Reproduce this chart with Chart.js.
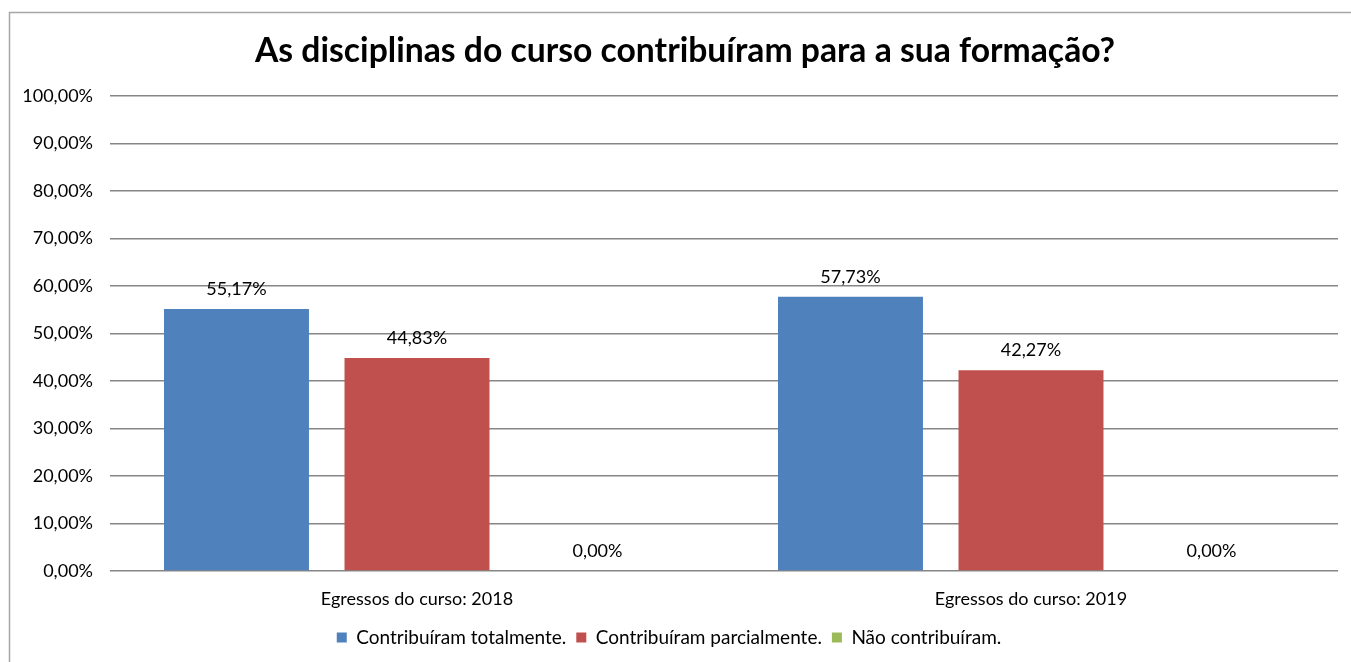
<!DOCTYPE html>
<html>
<head>
<meta charset="utf-8">
<script src="https://cdn.jsdelivr.net/npm/chart.js@4"></script>
<style>
  html,body{margin:0;padding:0;background:#fff;}
  #wrap{width:1351px;height:662px;position:relative;}
</style>
</head>
<body>
<div id="wrap"><canvas id="c"></canvas></div>
<script>
// chart data
const categories = ['Egressos do curso: 2018', 'Egressos do curso: 2019'];
const totalmente = [55.17, 57.73];
const parcialmente = [44.83, 42.27];
const naoContribuiram = [0, 0];
const yTicks = [0, 10, 20, 30, 40, 50, 60, 70, 80, 90, 100];

const font = 'Lato';
const fmt = v => v.toFixed(2).replace('.', ',') + '%';

// frame, title and value labels
const extras = {
  id: 'extras',
  beforeDraw(chart){
    const ctx = chart.ctx;
    ctx.save();
    ctx.strokeStyle = '#a6a6a6';
    ctx.lineWidth = 1.5;
    ctx.strokeRect(9.5, 12.5, 1400, 700);
    ctx.restore();
  },
  afterDatasetsDraw(chart){
    const ctx = chart.ctx;
    ctx.save();
    ctx.font = '18px ' + font;
    ctx.fillStyle = '#000';
    ctx.textAlign = 'center';
    ctx.textBaseline = 'middle';
    chart.data.datasets.forEach((ds, i) => {
      chart.getDatasetMeta(i).data.forEach((bar, j) => {
        ctx.fillText(fmt(ds.data[j]), bar.x, bar.y - 20);
      });
    });
    ctx.font = 'bold 33.7px ' + font;
    ctx.fillText('As disciplinas do curso contribuíram para a sua formação?', 685, 51);
    ctx.restore();
  }
};

new Chart(document.getElementById('c'), {
  type: 'bar',
  data: {
    labels: categories,
    datasets: [
      {label: 'Contribuíram totalmente.', data: totalmente, backgroundColor: '#4F81BD'},
      {label: 'Contribuíram parcialmente.', data: parcialmente, backgroundColor: '#C0504D'},
      {label: 'Não contribuíram.', data: naoContribuiram, backgroundColor: '#9BBB59'}
    ]
  },
  options: {
    responsive: true,
    maintainAspectRatio: false,
    animation: false,
    layout: {padding: {top: 96, right: 13, left: 0, bottom: 5}},
    datasets: {bar: {categoryPercentage: 0.882, barPercentage: 0.803}},
    plugins: {
      title: {display: false},
      tooltip: {enabled: false},
      legend: {
        position: 'bottom',
        labels: {boxWidth: 10, boxHeight: 10, padding: 10, color: '#000', font: {family: font, size: 19}}
      }
    },
    scales: {
      x: {
        grid: {display: false},
        border: {display: false},
        ticks: {color: '#000', padding: 9, font: {family: font, size: 18}},
        afterFit: s => { s.height = 47; }
      },
      y: {
        min: 0, max: 100,
        afterBuildTicks: s => { s.ticks = yTicks.map(v => ({value: v})); },
        afterFit: s => { s.width = 110; },
        grid: {color: '#868686', lineWidth: 1.5, drawTicks: false},
        border: {display: false},
        ticks: {color: '#000', padding: 17, font: {family: font, size: 18}, callback: v => fmt(v)}
      }
    }
  },
  plugins: [extras]
});
</script>
</body>
</html>
